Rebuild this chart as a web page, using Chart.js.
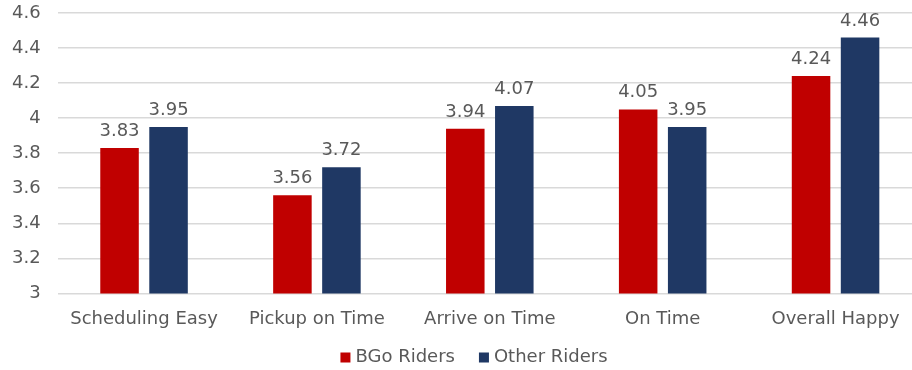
<!DOCTYPE html>
<html>
<head>
<meta charset="utf-8">
<script src="https://cdn.jsdelivr.net/npm/chart.js@4/dist/chart.umd.min.js"></script>
<style>
    html, body { margin: 0; padding: 0; background: #fff; overflow: hidden; }
    #frame { width: 912px; height: 370px; overflow: hidden; }
    #wrap { width: 922px; height: 370px; }
</style>
</head>
<body>
<div id="frame"><div id="wrap"><canvas id="riderChart"></canvas></div></div>
<script>
// Survey categories and average ratings
const categories = ['Scheduling Easy', 'Pickup on Time', 'Arrive on Time', 'On Time', 'Overall Happy'];
const bgoRiders = [3.83, 3.56, 3.94, 4.05, 4.24];
const otherRiders = [3.95, 3.72, 4.07, 3.95, 4.46];
const yTicks = [3, 3.2, 3.4, 3.6, 3.8, 4, 4.2, 4.4, 4.6];

const textColor = '#595959';
const fontFamily = '"DejaVu Sans", Verdana, sans-serif';

/**
 * Write each bar's value above it
 */
const valueLabels = {
    id: 'valueLabels',
    afterDatasetsDraw(chart) {
        const ctx = chart.ctx;
        ctx.save();
        ctx.fillStyle = textColor;
        ctx.font = '18px ' + fontFamily;
        ctx.textAlign = 'center';
        ctx.textBaseline = 'alphabetic';
        chart.data.datasets.forEach((ds, i) => {
            chart.getDatasetMeta(i).data.forEach((bar, j) => {
                ctx.fillText(ds.data[j].toFixed(2), bar.x, bar.y - 12);
            });
        });
        ctx.restore();
    }
};

/**
 * Legend along the bottom: small square, then the series name
 */
const bottomLegend = {
    id: 'bottomLegend',
    afterDraw(chart) {
        const ctx = chart.ctx;
        const box = 10, boxGap = 5, itemGap = 24;
        const centerX = 474, centerY = 357.5;
        ctx.save();
        ctx.font = '18px ' + fontFamily;
        const items = chart.data.datasets.map(ds => ({
            text: ds.label,
            color: ds.backgroundColor,
            width: box + boxGap + ctx.measureText(ds.label).width
        }));
        const total = items.reduce((s, it) => s + it.width, 0) + itemGap * (items.length - 1);
        let x = centerX - total / 2;
        ctx.textAlign = 'left';
        ctx.textBaseline = 'middle';
        items.forEach(it => {
            ctx.fillStyle = it.color;
            ctx.fillRect(x, centerY - box / 2, box, box);
            ctx.fillStyle = textColor;
            ctx.fillText(it.text, x + box + boxGap, centerY);
            x += it.width + itemGap;
        });
        ctx.restore();
    }
};

new Chart(document.getElementById('riderChart'), {
    type: 'bar',
    data: {
        labels: categories,
        datasets: [
            {
                label: 'BGo Riders',
                data: bgoRiders,
                backgroundColor: '#C00000',
                categoryPercentage: 0.567,
                barPercentage: 0.786
            },
            {
                label: 'Other Riders',
                data: otherRiders,
                backgroundColor: '#1F3864',
                categoryPercentage: 0.567,
                barPercentage: 0.786
            }
        ]
    },
    options: {
        responsive: true,
        maintainAspectRatio: false,
        animation: false,
        layout: { padding: { top: 13, right: 0, left: 12, bottom: 33 } },
        plugins: {
            legend: { display: false },
            tooltip: { enabled: false }
        },
        scales: {
            x: {
                grid: { display: false },
                border: { display: false },
                ticks: {
                    color: textColor,
                    padding: 7,
                    maxRotation: 0,
                    font: { family: fontFamily, size: 18 }
                }
            },
            y: {
                min: 3,
                max: 4.6,
                afterBuildTicks(axis) {
                    axis.ticks = yTicks.map(v => ({ value: v }));
                },
                afterFit(axis) {
                    // fixed axis width; top label may sit right at the edge
                    axis.width = 45.6;
                    axis.paddingTop = 0;
                },
                grid: { color: '#D9D9D9', lineWidth: 1.5, drawTicks: false },
                border: { display: false },
                ticks: {
                    color: textColor,
                    padding: 17,
                    font: { family: fontFamily, size: 18 },
                    callback: v => String(Math.round(v * 10) / 10)
                }
            }
        }
    },
    plugins: [valueLabels, bottomLegend]
});
</script>
</body>
</html>
